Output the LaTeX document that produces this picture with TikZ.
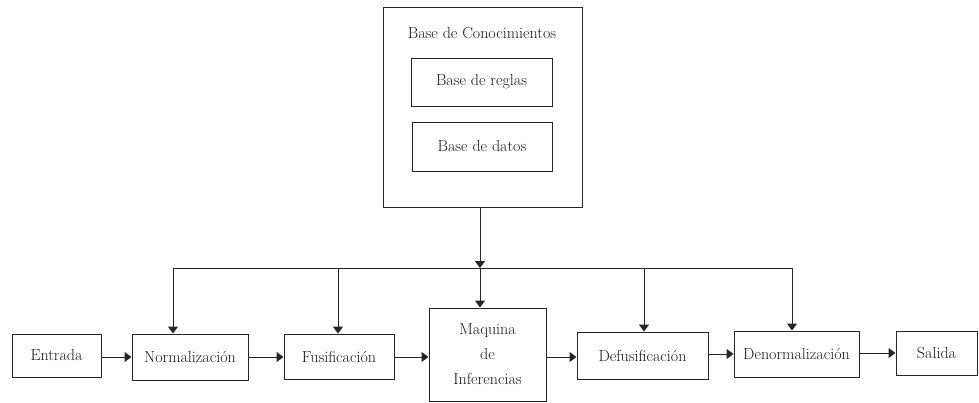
\documentclass[tikz,border=0pt]{standalone}
\usetikzlibrary{arrows.meta}
\begin{document}
\begin{tikzpicture}[x=1pt,y=-1pt,
  box/.style={draw=black!85,line width=1pt,minimum width=#1,inner sep=0pt},
  txt/.style={font=\fontsize{16}{18}\selectfont,text=black!90},
  conn/.style={draw=black!85,line width=1pt,-{Triangle[length=7pt,width=10pt]}},
  plain/.style={draw=black!85,line width=1pt}]
\useasboundingbox (0,0) rectangle (979,402);
% knowledge base
\node[box=199pt,minimum height=200pt] (kb) at (482.5,107) {};
\node[txt] (kbt) at (482,33) {Base de Conocimientos};
\node[box=141pt,minimum height=48pt,txt] (reg) at (481.5,82) {Base de reglas};
\node[box=140pt,minimum height=49pt,txt] (dat) at (482,146.5) {Base de datos};
% chain
\node[box=89pt,minimum height=43pt,txt] (ent) at (56.5,355.5) {Entrada};
\node[box=116pt,minimum height=46pt,txt] (nor) at (190,357) {Normalización};
\node[box=110pt,minimum height=45pt,txt] (fus) at (339,356.5) {Fusificación};
\node[box=117pt,minimum height=93pt,txt,align=center] (maq) at (487.5,354.5) {Maquina\\[7pt]de\\[7pt]Inferencias};
\node[box=131pt,minimum height=47pt,txt] (def) at (642.5,355.5) {Defusificación};
\node[box=125pt,minimum height=46pt,txt] (den) at (796.5,354) {Denormalización};
\node[box=81pt,minimum height=44pt,txt] (sal) at (936.5,353) {Salida};
% bus
\coordinate (kbo) at (480,207);
\coordinate (bm) at (480,268);
\coordinate (bl) at (173,268);
\coordinate (bf) at (338,268);
\coordinate (bd) at (644,268);
\coordinate (br) at (792,268);
\draw[conn] (kbo) -- (bm);
\draw[plain] (bl) -- (br);
\draw[conn] (bl) -- (bl |- nor.north);
\draw[conn] (bf) -- (bf |- fus.north);
\draw[conn] (bm) -- (bm |- maq.north);
\draw[conn] (bd) -- (bd |- def.north);
\draw[conn] (br) -- (br |- den.north);
% horizontal
\draw[conn] (ent.east |- 0,357) -- (nor.west |- 0,357);
\draw[conn] (nor.east |- 0,357) -- (fus.west |- 0,357);
\draw[conn] (fus.east |- 0,357) -- (maq.west |- 0,357);
\draw[conn] (maq.east |- 0,357) -- (def.west |- 0,357);
\draw[conn] (def.east |- 0,354) -- (den.west |- 0,354);
\draw[conn] (den.east |- 0,353) -- (sal.west |- 0,353);
\end{tikzpicture}
\end{document}
